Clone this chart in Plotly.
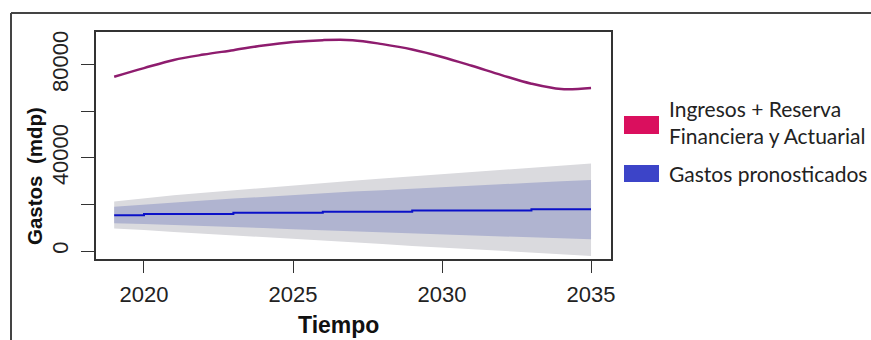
import plotly.graph_objects as go

# Yearly series, 2019-2035
years = list(range(2019, 2036))

ingresos = [74800, 78500, 82000, 84300, 86200, 88200, 89700, 90500, 90500,
            88800, 86500, 83300, 79500, 75500, 71800, 69500, 70000]

gastos = [15400, 15900, 15900, 15900, 16400, 16400, 16400, 16900, 16900,
          16900, 17400, 17400, 17400, 17400, 17900, 17900, 17900]

lo80 = [11900, 11600, 11200, 10800, 10400, 9900, 9300, 8900, 8500,
        8100, 7600, 7200, 6800, 6400, 5900, 5400, 5000]
hi80 = [19000, 20000, 20900, 21700, 22500, 23300, 24100, 24900, 25500,
        26100, 26800, 27400, 28000, 28600, 29300, 29900, 30500]
lo95 = [9700, 9000, 8200, 7500, 6800, 6000, 5200, 4500, 3700,
        3000, 2200, 1200, 600, 0, -700, -1400, -2100]
hi95 = [21200, 22600, 23900, 25000, 26100, 27100, 28100, 29200, 30200,
        31100, 32000, 32900, 33800, 34700, 35600, 36600, 37600]

x_ticks = [2020, 2025, 2030, 2035]
legend_labels = ["Ingresos + Reserva<br>Financiera y Actuarial", "Gastos pronosticados"]
legend_colors = ["#DA0F5E", "#3C44C8"]

W, H = 871, 340
L, R, T, B = 96, 260, 32, 81
pw, ph = W - L - R, H - T - B


def px(xp):
    return (xp - L) / pw


def py(yp):
    return (H - B - yp) / ph


fig = go.Figure()

# 95% band
fig.add_trace(go.Scatter(x=years + years[::-1], y=hi95 + lo95[::-1], fill="toself",
                         fillcolor="#DADADE", line=dict(width=0), mode="lines",
                         hoverinfo="skip", showlegend=False))
# 80% band
fig.add_trace(go.Scatter(x=years + years[::-1], y=hi80 + lo80[::-1], fill="toself",
                         fillcolor="#B0B4D0", line=dict(width=0), mode="lines",
                         hoverinfo="skip", showlegend=False))
# point forecast of expenses
fig.add_trace(go.Scatter(x=years, y=gastos, mode="lines", line_shape="hv",
                         line=dict(color="#0A10C8", width=2), showlegend=False))
# income + reserves
fig.add_trace(go.Scatter(x=years, y=ingresos, mode="lines", line_shape="spline",
                         line=dict(color="#8E1C6E", width=2.5), showlegend=False))

tick_font = dict(family="Liberation Sans, Arial, sans-serif", size=22, color="#222")

fig.update_xaxes(range=[2018.39, 2035.67], tickmode="array", tickvals=x_ticks,
                 ticks="outside", ticklen=12, tickwidth=1.3, tickcolor="#333",
                 showline=True, linecolor="#333", linewidth=1.5, mirror=True,
                 showgrid=False, zeroline=False, tickfont=tick_font,
                 ticklabelstandoff=3)
fig.update_yaxes(range=[-3430, 94000], tickmode="linear", tick0=0, dtick=40000,
                 tickformat="d", exponentformat="none",
                 ticks="outside", ticklen=13, tickwidth=1.3, tickcolor="#333",
                 minor=dict(tick0=0, dtick=20000, ticks="outside", ticklen=13,
                            tickwidth=1.3, tickcolor="#333", showgrid=False),
                 showline=True, linecolor="#333", linewidth=1.5, mirror=True,
                 showgrid=False, zeroline=False, tickangle=-90, tickfont=tick_font,
                 ticklabelstandoff=4)

title_font = "Liberation Sans, Arial, sans-serif"
annotations = [
    dict(text="<b>Tiempo</b>", x=px(338), y=py(325), xref="paper", yref="paper",
         xanchor="center", yanchor="middle", showarrow=False,
         font=dict(family=title_font, size=23, color="#111")),
    dict(text="<b>Gastos  (mdp)</b>", x=px(34), y=py(176), xref="paper", yref="paper",
         xanchor="center", yanchor="middle", showarrow=False, textangle=-90,
         font=dict(family=title_font, size=20.5, color="#111")),
]

shapes = [
    # outer frame (top and left edges)
    dict(type="line", xref="paper", yref="paper", x0=px(11), x1=px(W + 5),
         y0=py(13), y1=py(13), line=dict(color="#444", width=2)),
    dict(type="line", xref="paper", yref="paper", x0=px(11), x1=px(11),
         y0=py(13), y1=py(H + 5), line=dict(color="#444", width=2)),
]

# legend boxes and labels
box_y = [(116, 134), (165, 182)]
text_y = [122, 173]
for lab, col, (y0, y1), ty in zip(legend_labels, legend_colors, box_y, text_y):
    shapes.append(dict(type="rect", xref="paper", yref="paper",
                       x0=px(624), x1=px(659), y0=py(y1), y1=py(y0),
                       fillcolor=col, line=dict(width=0)))
    annotations.append(dict(text=lab, x=px(667), y=py(ty), xref="paper", yref="paper",
                            xanchor="left", yanchor="middle", align="left",
                            showarrow=False,
                            font=dict(family="Lato, Open Sans, sans-serif", size=21,
                                      color="#222")))

fig.update_layout(width=W, height=H, margin=dict(l=L, r=R, t=T, b=B),
                  paper_bgcolor="white", plot_bgcolor="white",
                  shapes=shapes, annotations=annotations, showlegend=False)

fig.write_html("out.html")
